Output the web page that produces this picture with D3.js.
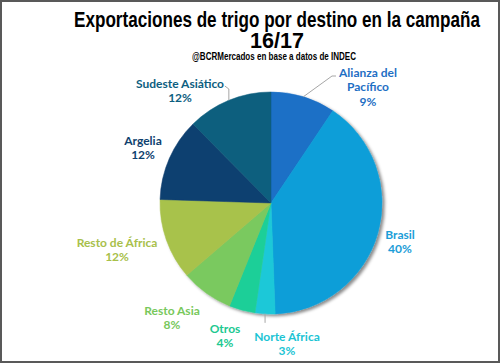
<!DOCTYPE html>
<html>
<head>
<meta charset="utf-8">
<script src="https://cdn.jsdelivr.net/npm/d3@7"></script>
<style>
  body { margin: 0; background: #fff; }
  svg { display: block; }
</style>
</head>
<body>
<script>
var width = 500, height = 363;

// data, clockwise from 12 o'clock
var destinos = ["Alianza del Pacífico", "Brasil", "Norte África", "Otros",
                "Resto Asia", "Resto de África", "Argelia", "Sudeste Asiático"];
var valores = [9.4, 40.0, 2.9, 3.8, 7.6, 11.8, 12.1, 12.4];
var colores = ["#1a6fc6", "#0a9ed8", "#1cc8d8", "#1ccf98",
               "#7ac95e", "#a8c24c", "#0e3f6f", "#0c5e7e"];
var textColores = ["#1f6fc4", "#1a9dd8", "#1cc4d4", "#20c890",
                   "#78c85c", "#a8c04a", "#0e3f6e", "#0d5e80"];

// label placement (offset of label centre from the pie centre) and leader lines
var labelOffset = [[97, -116], [129, 39], [16, 141], [-46, 133],
                   [-99, 115], [-154, 47], [-128, -55], [-91, -112]];
var leader = [true, false, true, false, false, false, false, true];

var cx = 271, cy = 203, radius = 111;

var svg = d3.select("body").append("svg")
    .attr("width", width)
    .attr("height", height);

svg.append("rect")
    .attr("x", 1).attr("y", 1)
    .attr("width", width - 2).attr("height", height - 2)
    .attr("fill", "#fff")
    .attr("stroke", "#595959")
    .attr("stroke-width", 2);

var defs = svg.append("defs");
defs.append("filter")
    .attr("id", "sombra")
    .attr("x", "-10%").attr("y", "-10%")
    .attr("width", "125%").attr("height", "125%")
  .append("feDropShadow")
    .attr("dx", 2.5).attr("dy", 2)
    .attr("stdDeviation", 1.5)
    .attr("flood-color", "#000")
    .attr("flood-opacity", 0.45);

// titles
svg.append("text")
    .attr("x", 277).attr("y", 27)
    .attr("text-anchor", "middle")
    .attr("textLength", 406)
    .attr("lengthAdjust", "spacingAndGlyphs")
    .style("font-family", "'Liberation Sans Narrow', 'Arial Narrow', sans-serif")
    .style("font-weight", "bold")
    .style("font-size", "22px")
    .text("Exportaciones de trigo por destino en la campaña");

svg.append("text")
    .attr("x", 277).attr("y", 48)
    .attr("text-anchor", "middle")
    .attr("textLength", 54)
    .attr("lengthAdjust", "spacingAndGlyphs")
    .style("font-family", "'Liberation Sans Narrow', 'Arial Narrow', sans-serif")
    .style("font-weight", "bold")
    .style("font-size", "22px")
    .text("16/17");

svg.append("text")
    .attr("x", 274).attr("y", 60)
    .attr("text-anchor", "middle")
    .attr("textLength", 164)
    .attr("lengthAdjust", "spacingAndGlyphs")
    .style("font-family", "'Liberation Sans Narrow', 'Arial Narrow', sans-serif")
    .style("font-weight", "bold")
    .style("font-size", "10px")
    .text("@BCRMercados en base a datos de INDEC");

// pie
var pie = d3.pie().sort(null).value(function(d) { return d; });
var arcs = pie(valores);
var arc = d3.arc().innerRadius(0).outerRadius(radius);

var g = svg.append("g")
    .attr("transform", "translate(" + cx + "," + cy + ")");

g.append("g")
    .attr("filter", "url(#sombra)")
  .selectAll("path")
    .data(arcs)
  .enter().append("path")
    .attr("d", arc)
    .attr("fill", function(d, i) { return colores[i]; })
    .attr("stroke", function(d, i) { return colores[i]; })
    .attr("stroke-width", 0.5);

// leader lines
arcs.forEach(function(d, i) {
  if (!leader[i]) return;
  var a = (d.startAngle + d.endAngle) / 2;
  var sx = Math.sin(a) * radius, sy = -Math.cos(a) * radius;
  var lo = labelOffset[i];
  var pts;
  if (i === 0) pts = [[sx, sy], [lo[0] - 36, lo[1] - 11], [lo[0] - 32, lo[1] - 11]];
  else if (i === 7) pts = [[sx, sy], [sx, lo[1] - 2], [sx - 4, lo[1] - 5]];
  else pts = [[sx, sy], [sx, sy + 9]];
  g.append("path")
      .attr("d", d3.line()(pts))
      .attr("fill", "none")
      .attr("stroke", "#a6a6a6")
      .attr("stroke-width", 1);
});

// labels
var labels = g.selectAll(".etiqueta")
    .data(arcs)
  .enter().append("text")
    .attr("class", "etiqueta")
    .attr("text-anchor", "middle")
    .attr("fill", function(d, i) { return textColores[i]; })
    .style("font-family", "Lato, 'Noto Sans', sans-serif")
    .style("font-weight", "bold")
    .style("font-size", "12px");

labels.each(function(d, i) {
  var t = d3.select(this);
  var lo = labelOffset[i];
  var lines = destinos[i] === "Alianza del Pacífico"
      ? ["Alianza del", "Pacífico"] : [destinos[i]];
  lines.push(Math.round(d.value) + "%");
  var lh = 14.5;
  var y0 = lo[1] - (lines.length - 1) * lh / 2 + 4;
  lines.forEach(function(s, k) {
    t.append("tspan")
        .attr("x", lo[0])
        .attr("y", y0 + k * lh)
        .text(s);
  });
});
</script>
</body>
</html>
